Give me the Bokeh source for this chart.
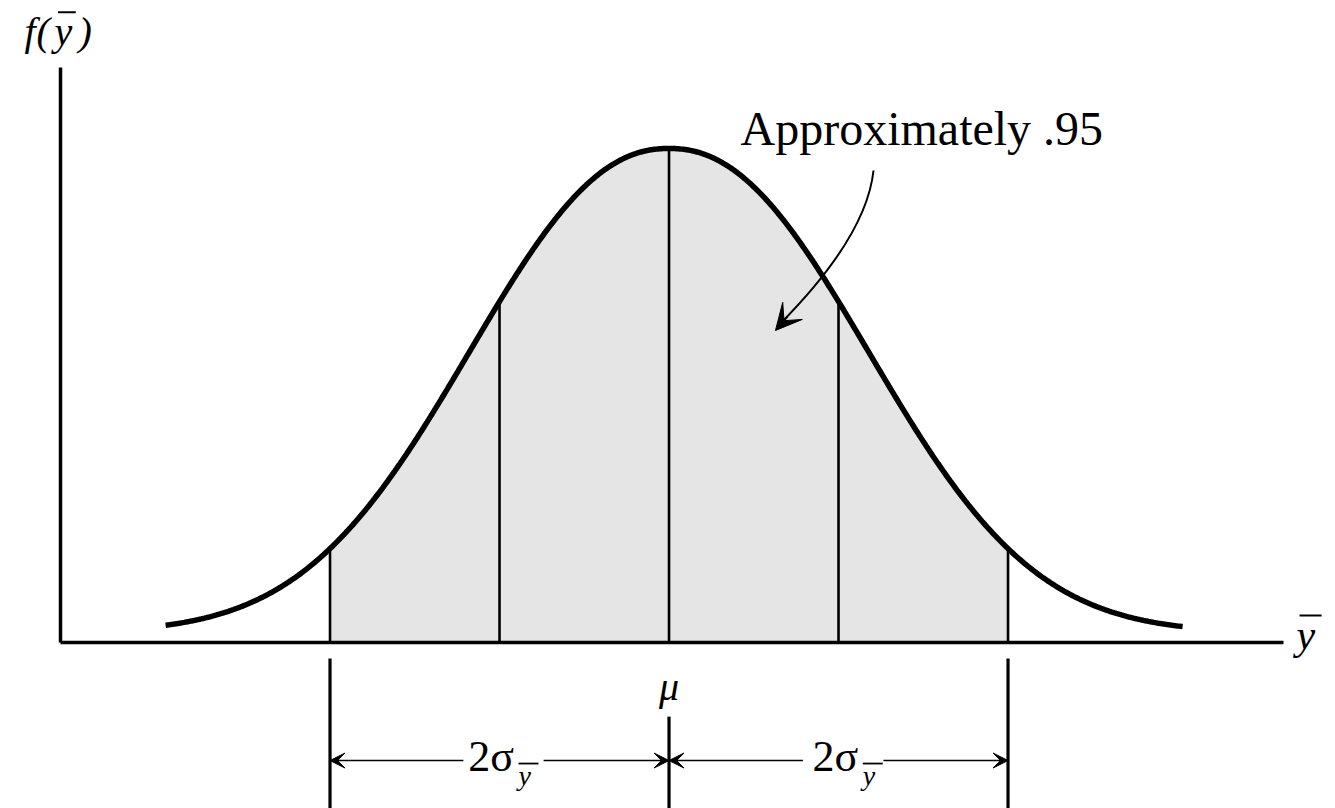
import numpy as np
from bokeh.plotting import figure
from bokeh.models import Range1d, Arrow, VeeHead
from bokeh.core.properties import value
from bokeh.embed import file_html
from bokeh.resources import INLINE

# Sampling distribution of the mean, drawn in units of sigma_ybar around mu.
MU = 0.0
CURVE_SCALE = 1.551      # width of the drawn bell, in sigma_ybar units
CURVE_POWER = 2.204      # shape exponent of the bell
CURVE_FLOOR = 0.02       # height the tails settle to, relative to the peak
CURVE_LO, CURVE_HI = -2.97, 3.03
SIGMA_MARKS = [-2, -1, 0, 1, 2]   # vertical lines under the curve
SHADE_LO, SHADE_HI = -2, 2        # mu +/- 2 sigma_ybar, about .95 of the area
AREA_LABEL = "Approximately .95"
MU_LABEL = "\u03bc"
WIDTH_LABEL = "2\u03c3"
SUB_LABEL = "y"

FONT = value("Liberation Serif")
INK = "black"
SHADE = "#e5e5e5"


def density(x):
    z = np.abs(np.asarray(x, dtype=float) - MU) / CURVE_SCALE
    return CURVE_FLOOR + (1 - CURVE_FLOOR) * np.exp(-z ** CURVE_POWER)


p = figure(width=1335, height=808, x_range=Range1d(-3.944, 3.932),
           y_range=Range1d(-0.336, 1.2996), output_backend="svg",
           toolbar_location=None, x_axis_type=None, y_axis_type=None,
           min_border=0)
p.grid.visible = False
p.outline_line_color = None
p.background_fill_color = "white"
p.border_fill_color = "white"

# shaded central region
xs = np.linspace(SHADE_LO, SHADE_HI, 400)
p.varea(x=xs, y1=np.zeros_like(xs), y2=density(xs), fill_color=SHADE)

# vertical lines at mu, mu +/- sigma, mu +/- 2 sigma
marks = np.array(SIGMA_MARKS, dtype=float)
p.segment(x0=marks, y0=np.zeros_like(marks), x1=marks, y1=density(marks),
          line_color=INK, line_width=2.6)

# density curve
xc = np.linspace(CURVE_LO, CURVE_HI, 600)
p.line(xc, density(xc), line_color=INK, line_width=5.5, line_cap="butt")

# axes drawn as plain strokes
AX_LEFT, AX_RIGHT, AX_TOP = -3.59, 3.625, 1.164
p.segment(x0=[AX_LEFT, AX_LEFT], y0=[0, 0], x1=[AX_LEFT, AX_RIGHT], y1=[AX_TOP, 0],
          line_color=INK, line_width=3.5, line_cap="butt")

# vertical axis title f(y-bar), set piece by piece
p.text(x=[-3.803, -3.732, -3.625, -3.484], y=[1.2368] * 4,
       text=["f", "(", SUB_LABEL, ")"], text_font=FONT,
       text_font_size="40px", text_font_style="italic",
       text_align="left", text_baseline="alphabetic", text_color=INK)
p.segment(x0=[-3.605], y0=[1.276], x1=[-3.500], y1=[1.276], line_color=INK, line_width=2)

# horizontal axis title y-bar
p.text(x=[3.702], y=[0.0142], text=[SUB_LABEL], text_font=FONT,
       text_font_size="42px", text_font_style="italic",
       text_align="left", text_baseline="alphabetic", text_color=INK)
p.segment(x0=[3.720], y0=[0.0547], x1=[3.850], y1=[0.0547], line_color=INK, line_width=2)

# area annotation with curved pointer
p.text(x=[0.4218], y=[1.0405], text=[AREA_LABEL], text_font=FONT,
       text_font_size="48px", text_align="left", text_baseline="alphabetic",
       text_color=INK)
p.quadratic(x0=[1.2065], y0=[0.9555], x1=[0.655], y1=[0.645],
            cx=[1.165], cy=[0.822], line_color=INK, line_width=2)
p.add_layout(Arrow(end=VeeHead(size=26, fill_color=INK, line_color=INK, line_width=1),
                   x_start=0.70, y_start=0.66, x_end=0.628, y_end=0.6316,
                   line_color=INK, line_width=2))

# dimension lines below the axis
DIM_Y = -0.2389
TICK_BOTTOM = -0.34
p.segment(x0=[SHADE_LO, SHADE_HI, MU], y0=[-0.0324, -0.0324, -0.150],
          x1=[SHADE_LO, SHADE_HI, MU], y1=[TICK_BOTTOM] * 3,
          line_color=INK, line_width=3.2, line_cap="butt")

p.text(x=[MU], y=[-0.0891], text=[MU_LABEL], text_font=FONT,
       text_font_size="40px", text_font_style="italic",
       text_align="center", text_baseline="middle", text_color=INK)

head = dict(size=15, fill_color=INK, line_color=INK, line_width=1)
for (gap_a, gap_b, a, b) in [(-1.213, -0.740, SHADE_LO, MU), (0.790, 1.265, MU, SHADE_HI)]:
    p.add_layout(Arrow(end=VeeHead(**head), x_start=gap_a, y_start=DIM_Y,
                       x_end=a, y_end=DIM_Y, line_color=INK, line_width=1.6))
    p.add_layout(Arrow(end=VeeHead(**head), x_start=gap_b, y_start=DIM_Y,
                       x_end=b, y_end=DIM_Y, line_color=INK, line_width=1.6))

label_x = np.array([-1.184, 0.847])
p.text(x=label_x, y=[-0.2308] * 2, text=[WIDTH_LABEL] * 2, text_font=FONT,
       text_font_size="44px", text_align="left", text_baseline="alphabetic",
       text_color=INK)
sub_x = label_x + 0.296
p.text(x=sub_x, y=[-0.2692] * 2, text=[SUB_LABEL] * 2, text_font=FONT,
       text_font_size="28px", text_font_style="italic", text_align="left",
       text_baseline="alphabetic", text_color=INK)
p.segment(x0=sub_x, y0=[-0.245] * 2, x1=sub_x + 0.118, y1=[-0.245] * 2,
          line_color=INK, line_width=1.8)

open("out.html", "w").write(file_html(p, INLINE))
